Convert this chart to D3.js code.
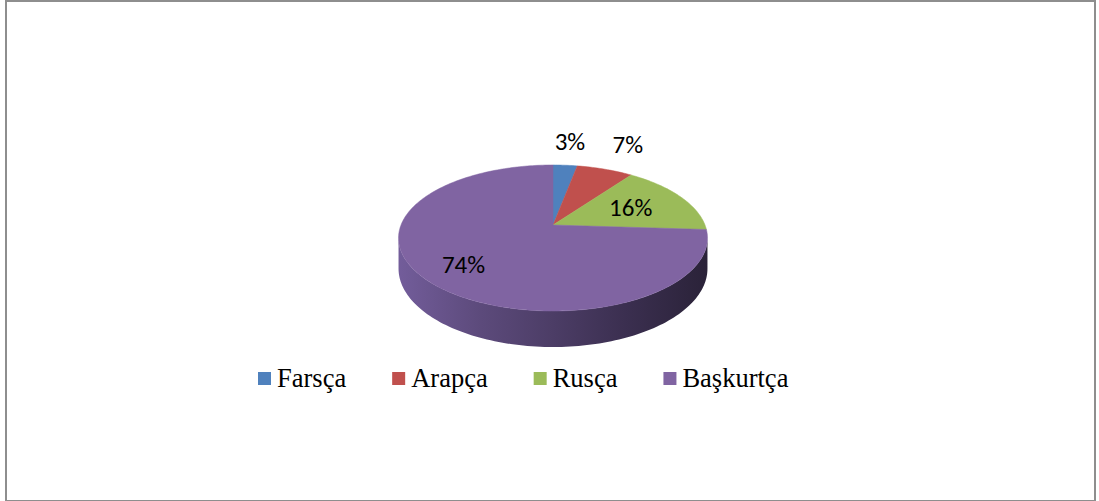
<!DOCTYPE html>
<html>
<head>
<meta charset="utf-8">
<script src="https://cdn.jsdelivr.net/npm/d3@7"></script>
<style>
  html, body { margin: 0; padding: 0; background: #fff; }
  svg { display: block; }
</style>
</head>
<body>
<svg id="chart" width="1099" height="501"></svg>
<script>
// ---- data ----
const categories = ["Farsça", "Arapça", "Rusça", "Başkurtça"];
const values = [3, 7, 16, 74];
const labels = ["3%", "7%", "16%", "74%"];
const colors = ["#4f81bd", "#c0504d", "#9bbb59", "#8064a2"];

// ---- layout ----
const svg = d3.select("#chart");

svg.append("rect")
  .attr("x", 6).attr("y", 1).attr("width", 1089).attr("height", 500)
  .attr("fill", "#fff").attr("stroke", "#8e8e8e").attr("stroke-width", 2);

const cx = 553, cy = 225, R = 152, A = 70.7, K = 0.178, D = 29.6;

// perspective projection of a point at angle theta (clockwise from top),
// radius fraction r, depth h (0 = top face, 1 = bottom)
function proj(theta, r, h) {
  const u = r * Math.sin(theta), v = -r * Math.cos(theta);
  const w = 1 - K * v;
  return [cx + R * u / w, cy + (A * v + D * h) / w];
}

const pie = d3.pie().sort(null).value(d => d).startAngle(0).endAngle(2 * Math.PI);
const arcs = pie(values);
const line = d3.line();

// side (front face of cylinder)
const defs = svg.append("defs");
const grad = defs.append("linearGradient").attr("id", "side")
  .attr("gradientUnits", "userSpaceOnUse")
  .attr("x1", cx - R - 4).attr("x2", cx + R + 4).attr("y1", 0).attr("y2", 0);
[[0, "#735d9b"], [0.27, "#5c4a7b"], [0.5, "#4c3d66"], [0.73, "#3b2f50"], [1, "#2a2238"]]
  .forEach(([o, c]) => grad.append("stop").attr("offset", o).attr("stop-color", c));

const tA = Math.acos(-K);            // right silhouette angle
const tB = 2 * Math.PI - tA;         // left silhouette angle
const N = 120;
const sideTop = d3.range(N + 1).map(i => proj(tA + (tB - tA) * i / N, 1, 0));
const sideBot = d3.range(N + 1).map(i => proj(tB - (tB - tA) * i / N, 1, 1));
svg.append("path")
  .attr("d", line(sideTop.concat(sideBot)) + "Z")
  .attr("fill", "url(#side)");

// top face slices
arcs.forEach((a, i) => {
  const n = Math.max(4, Math.ceil((a.endAngle - a.startAngle) / 0.02));
  const pts = [proj(0, 0, 0)];
  for (let j = 0; j <= n; j++) {
    pts.push(proj(a.startAngle + (a.endAngle - a.startAngle) * j / n, 1, 0));
  }
  svg.append("path")
    .attr("d", line(pts) + "Z")
    .attr("fill", colors[i])
    .attr("stroke", colors[i]).attr("stroke-width", 0.5);
});

// data labels
arcs.forEach((a, i) => {
  const mid = (a.startAngle + a.endAngle) / 2;
  const frac = a.value / d3.sum(values);
  const r = frac < 0.1 ? 1.45 + 1.5 * frac : 0.55 + 0.25 * frac;
  const [x, y] = proj(mid, r, 0);
  svg.append("text")
    .attr("x", x).attr("y", y)
    .attr("text-anchor", "middle")
    .attr("dominant-baseline", "central")
    .attr("font-family", "Carlito, Lato, 'Open Sans', sans-serif")
    .attr("font-size", 25)
    .attr("fill", "#000")
    .text(labels[i]);
});

// legend
const leg = svg.append("g").attr("transform", "translate(258,0)");
let lx = 0;
categories.forEach((c, i) => {
  const g = leg.append("g").attr("transform", `translate(${lx},0)`);
  g.append("rect").attr("x", 0).attr("y", 372).attr("width", 13).attr("height", 13)
    .attr("fill", colors[i]);
  const t = g.append("text").attr("x", 19).attr("y", 387)
    .attr("font-family", "'Liberation Serif', 'Times New Roman', serif")
    .attr("font-size", 26.5).attr("fill", "#000").text(c);
  lx += 19 + t.node().getComputedTextLength() + 46;
});
</script>
</body>
</html>
